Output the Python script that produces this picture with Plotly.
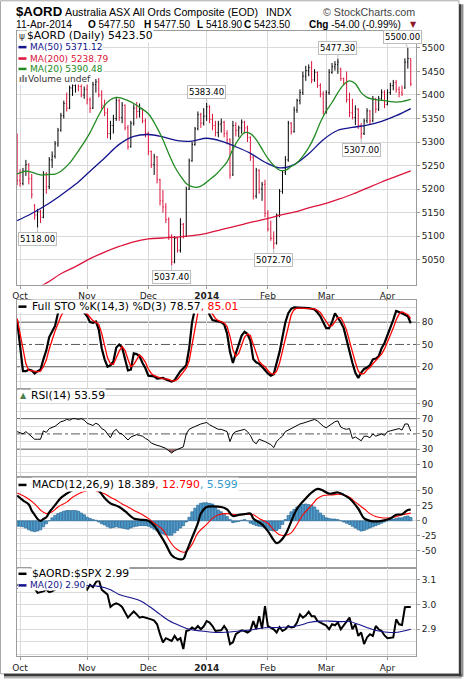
import plotly.graph_objects as go
import pandas as pd

# ---------------- calendar ----------------
HOLIDAYS = ["2013-12-25", "2013-12-26", "2014-01-01", "2014-01-27"]
dates = [d.strftime("%Y-%m-%d") for d in pd.bdate_range("2013-09-30", "2014-04-11")
         if d.strftime("%Y-%m-%d") not in HOLIDAYS]
month_labels = ["Oct", "Nov", "Dec", "<b>2014</b>", "Feb", "Mar", "Apr"]

# ---------------- price data ($AORD) ----------------
opens = [5300,5218,5212,5238,5252,5222,5165,5145,5152,5140,
         5232,5205,5262,5270,5296,5325,5356,5382,5372,5415,
         5420,5428,5418,5400,5412,5390,5372,5422,5428,5400,
         5378,5362,5318,5335,5350,5388,5352,5378,5330,5290,
         5340,5372,5365,5370,5345,5318,5280,5252,5268,5220,
         5175,5162,5135,5100,5045,5095,5070,5125,5100,5200,
         5260,5295,5328,5358,5340,5355,5375,5348,5335,5320,
         5338,5342,5318,5305,5230,5335,5325,5330,5342,5330,
         5310,5268,5185,5240,5200,5210,5148,5115,5095,5085,
         5145,5195,5236,5262,5340,5322,5368,5388,5405,5440,
         5452,5458,5432,5448,5420,5402,5365,5405,5448,5460,
         5465,5455,5435,5425,5390,5362,5352,5370,5335,5318,
         5345,5366,5345,5392,5370,5392,5406,5380,5405,5420,
         5426,5412,5405,5415,5470,5477.5]
highs = [5318,5242,5245,5262,5255,5232,5168,5158,5156,5238,
         5236,5268,5280,5302,5330,5362,5388,5405,5420,5425,
         5435,5432,5428,5418,5425,5395,5428,5434,5436,5410,
         5390,5372,5345,5358,5395,5392,5385,5380,5336,5345,
         5380,5385,5382,5372,5350,5322,5282,5275,5270,5222,
         5198,5170,5140,5104,5100,5098,5138,5128,5205,5265,
         5300,5332,5365,5362,5372,5383.4,5378,5360,5345,5345,
         5350,5345,5325,5308,5345,5342,5335,5348,5345,5335,
         5312,5270,5245,5242,5215,5220,5155,5133,5110,5148,
         5200,5240,5270,5345,5342,5375,5392,5412,5450,5462,
         5465,5472,5455,5450,5425,5408,5410,5455,5468,5472,
         5477.3,5458,5437,5450,5405,5392,5378,5372,5340,5350,
         5372,5368,5398,5394,5398,5412,5410,5412,5426,5432,
         5432,5418,5420,5478,5500,5477.5]
lows = [5208,5205,5208,5228,5210,5180,5135,5118,5128,5138,
        5190,5200,5245,5265,5290,5322,5350,5365,5370,5398,
        5405,5408,5395,5392,5380,5362,5370,5405,5395,5370,
        5355,5308,5305,5318,5345,5345,5340,5325,5284,5288,
        5335,5350,5352,5340,5310,5272,5245,5230,5212,5165,
        5150,5128,5092,5037.4,5042,5065,5065,5095,5098,5198,
        5258,5292,5325,5330,5335,5345,5340,5325,5312,5310,
        5320,5310,5295,5222,5228,5312,5310,5318,5318,5300,
        5260,5178,5180,5190,5175,5140,5110,5090,5072.7,5082,
        5140,5190,5230,5258,5316,5320,5362,5380,5400,5430,
        5440,5425,5428,5415,5395,5358,5360,5400,5445,5452,
        5445,5430,5420,5384,5353,5348,5336,5328,5307,5315,
        5340,5338,5342,5362,5366,5388,5372,5378,5400,5410,
        5405,5395,5398,5413,5456,5418.9]
closes = [5218,5212,5238,5252,5222,5188,5145,5152,5140,5232,
          5205,5262,5270,5296,5325,5356,5382,5372,5415,5420,
          5428,5418,5400,5412,5390,5372,5422,5428,5400,5378,
          5362,5318,5335,5350,5388,5352,5378,5330,5290,5340,
          5372,5365,5370,5345,5318,5280,5252,5268,5220,5175,
          5162,5135,5100,5045,5095,5070,5125,5100,5200,5260,
          5295,5328,5358,5340,5355,5375,5348,5335,5320,5338,
          5342,5318,5305,5230,5335,5325,5330,5342,5330,5310,
          5268,5185,5240,5200,5210,5148,5115,5095,5085,5145,
          5195,5236,5262,5340,5322,5368,5388,5405,5440,5452,
          5458,5432,5448,5420,5402,5365,5405,5448,5460,5465,
          5470,5435,5425,5390,5362,5352,5370,5335,5318,5345,
          5366,5345,5392,5370,5392,5406,5380,5405,5420,5426,
          5412,5405,5402,5470,5477.5,5423.5]

# moving averages (sampled trading-day number -> value)
ma50_days = [0,5,10,15,20,25,30,35,40,45,50,55,60,65,70,75,80,85,90,95,100,105,110,115,120,125,130,135]
ma50_vals = [5133,5148,5166,5187,5210,5238,5266,5295,5312,5316,5311,5303,5302,5308,5302,5290,5276,5257,5245,
             5252,5275,5305,5325,5331,5336,5344,5356,5371.12]
ma200_days = [5,10,15,20,25,30,35,40,45,50,55,60,65,70,75,80,85,90,95,100,105,110,115,120,125,130,135]
ma200_vals = [4985,5000,5020,5035,5052,5066,5078,5088,5094,5096,5098,5101,5106,5114,5121,5129,5136,5144,
              5151,5160,5168,5178,5189,5202,5215,5227,5238.79]
ma20_days = [0,3,5,8,11,13,15,18,20,22,25,28,30,32,34,36,38,40,42,45,48,50,52,54,56,58,60,62,64,66,68,70,
             72,74,76,78,80,82,84,86,88,90,92,94,96,98,100,102,104,106,108,110,112,114,116,118,120,122,124,
             126,128,130,132,135]
ma20_vals = [5232,5238,5236,5230,5231,5232,5238,5255,5272,5290,5320,5357,5378,5390,5395,5393,5388,5382,5374,
             5360,5330,5305,5275,5248,5228,5212,5205,5204,5210,5220,5230,5243,5258,5285,5306,5320,5318,5305,
             5285,5265,5250,5240,5240,5248,5256,5270,5288,5312,5342,5366,5384,5405,5422,5430,5424,5405,5395,
             5391,5389,5388,5386,5385,5386,5390.48]

# price labels (trading-day number, value, above/below)
label_days = [7, 53, 65, 88, 110, 118, 134]
label_vals = [5118.00, 5037.40, 5383.40, 5072.70, 5477.30, 5307.00, 5500.00]
label_side = ["low", "low", "high", "low", "high", "low", "high"]

# ---------------- indicators ----------------
sto_k = [82,45,14,14,16,15,11,14,16,30,
         42,60,68,75,92,96,97,96,97,97,
         97,96,95,93,88,80,79,81,70,45,
         30,20,22,27,46,50,46,30,15,16,
         38,37,34,25,18,8,8,7,4,4,
         5,3,1,0,2,8,14,18,22,45,
         80,98,100,98,100,100,90,83,82,80,
         80,77,65,40,25,38,50,62,67,64,
         55,30,26,24,20,15,11,8,10,25,
         40,60,80,92,98,100,100,99,99,99,
         99,98,97,93,88,80,72,72,80,92,
         86,80,72,55,40,25,12,5,12,17,
         19,22,30,31,34,45,52,62,72,83,
         95,94,92,90,88,78.57]
sto_d = [85,65,47,24,15,15,14,13,14,20,
         29,44,57,68,78,88,95,96,96,96,
         97,97,96,95,91,87,82,80,77,65,
         48,32,24,23,32,41,47,42,30,20,
         23,30,36,32,26,17,11,8,6,5,
         4,4,3,1,1,3,8,13,18,28,
         49,74,93,99,99,99,97,91,85,82,
         81,79,74,61,43,34,38,50,60,64,
         62,50,37,27,23,20,15,11,10,14,
         25,42,60,77,90,97,99,99,99,99,
         99,99,98,96,93,87,80,75,75,81,
         86,86,79,69,56,40,26,14,10,11,
         16,19,24,28,32,37,44,53,62,72,
         83,91,94,92,90,85.01]
rsi = [53,51,50,53,50,46,43,43,43,54,
       52,57,58,60,63,66,67,69,68,70,
       70,69,70,68,64,62,61,64,62,57,
       55,50,45,53,56,51,50,46,42,46,
       48,49,48,47,44,42,38,36,35,34,
       33,31,28,25,28,30,31,33,50,56,
       58,60,61,63,64,65,62,60,57,56,
       56,55,53,40,50,53,54,55,56,53,
       48,40,37,43,42,40,38,36,32,40,
       44,47,53,55,57,59,62,63,64,65,
       66,68,69,67,63,60,58,61,64,66,
       67,59,57,56,57,44,46,43,41,47,
       47,45,50,47,49,50,48,53,54,55,
       56,57,55,63,63,53.59]
macd_days = [0,2,4,5,6,7,8,9,10,11,13,15,17,19,21,23,25,27,28,30,32,35,37,40,42,45,47,49,51,53,55,57,58,60,
             62,63,65,67,70,72,74,76,78,80,81,84,86,88,89,90,92,94,96,99,101,103,105,107,110,112,114,117,119,
             121,123,125,128,130,132,134,135]
macd_vals = [42,34,27,17,10,3,0,3,6,14,26,38,45,51,57,59,58,53,50,38,29,23,16,4,2,0,-8,-23,-39,-57,-63,-63,
             -52,-28,-4,12,23,24,23,19,8,10,11,12,4,-6,-17,-32,-37,-35,-23,-1,20,37,47,53,50,45,47,43,37,20,4,
             0,-1,0,4,10,11,18,18.389]
signal_days = [0,3,6,8,10,12,14,17,19,22,24,26,28,30,32,34,36,38,41,43,45,47,50,52,54,57,58,60,62,65,67,69,
               72,74,76,79,81,83,86,88,90,92,94,96,98,101,103,105,108,110,112,114,116,119,121,123,125,128,130,
               132,135]
signal_vals = [46,39,28,18,12,15,23,31,39,47,50,51,48,45,39,34,28,23,15,10,4,-4,-15,-31,-44,-52,-51,-39,-20,
               -6,4,10,12,11,10,11,10,4,-4,-15,-23,-24,-20,-6,10,26,37,42,43,44,43,39,31,20,12,7,5,5,7,10,12.79]
macd_hist = [-9,-9,-10,-12,-15,-17,-18,-17,-15,-10,
             -5,0,5,9,12,14,16,17,17,17,
             17,16,13,10,6,4,2,1,-2,-5,
             -7,-10,-12,-11,-10,-11,-12,-13,-14,-12,
             -10,-9,-8,-8,-8,-9,-11,-14,-17,-20,
             -22,-23,-24,-24,-20,-16,-12,-8,-2,6,
             15,21,26,29,30,30,29,28,22,18,
             15,11,7,2,-3,-2,-1,1,2,0,
             -4,-6,-8,-9,-10,-12,-14,-16,-17,-16,
             -13,-6,2,9,15,19,23,25,27,28,
             27,26,23,18,13,9,5,4,3,3,
             2,0,-2,-4,-6,-9,-12,-15,-17,-16,
             -14,-12,-10,-8,-6,-4,-2,0,2,3,
             4,5,5,7,8,5.599]
ratio = [3.08,3.075,3.08,3.075,3.07,3.075,3.065,3.047,3.05,3.053,
         3.06,3.05,3.053,3.06,3.065,3.075,3.085,3.08,3.085,3.09,
         3.085,3.09,3.085,3.08,3.06,3.08,3.07,3.09,3.10,3.06,
         3.05,3.04,2.99,3.00,3.005,3.00,2.99,2.97,2.947,2.96,
         2.972,2.96,2.947,2.95,2.947,2.945,2.94,2.935,2.92,2.88,
         2.847,2.864,2.86,2.853,2.873,2.856,2.864,2.82,2.893,2.897,
         2.907,2.90,2.913,2.90,2.912,2.933,2.927,2.913,2.893,2.893,
         2.896,2.913,2.895,2.84,2.847,2.88,2.887,2.896,2.893,2.887,
         2.895,2.933,2.90,2.953,2.903,2.993,2.913,2.907,2.90,2.887,
         2.909,2.893,2.90,2.913,2.907,2.91,2.927,2.96,2.947,2.955,
         2.971,2.953,2.953,2.933,2.927,2.923,2.915,2.90,2.92,2.916,
         2.927,2.90,2.917,2.93,2.947,2.90,2.92,2.873,2.887,2.84,
         2.867,2.88,2.873,2.913,2.90,2.893,2.875,2.864,2.864,2.867,
         2.94,2.92,2.917,2.989,2.99,2.99]
ratio_ma_days = [0,5,10,15,20,23,28,32,35,39,42,45,49,52,56,59,63,66,70,73,76,80,83,87,90,93,97,100,104,107,
                 111,114,117,121,124,128,131,135]
ratio_ma_vals = [3.065,3.07,3.07,3.072,3.075,3.077,3.073,3.06,3.04,3.027,3.016,2.995,2.96,2.935,2.913,2.90,
                 2.893,2.889,2.887,2.889,2.893,2.897,2.903,2.907,2.907,2.909,2.916,2.927,2.933,2.933,2.931,
                 2.931,2.92,2.903,2.893,2.887,2.889,2.90]

# ---------------- geometry helpers ----------------
W, H = 464, 685
L, R, T, B = 17, 48, 31, 23
PW, PH = W - L - R, H - T - B


def px(x):
    return (x - L) / PW


def py(y):
    return (H - B - y) / PH


def dom(top, bottom):
    return [py(bottom), py(top)]


n = len(dates)
xs = list(range(n))
month_idx = [i for i in range(1, n) if dates[i][5:7] != dates[i - 1][5:7]]

GRID = "#dadada"
BORDER = "#9c9c9c"
NAVY = "#14148c"
CRIMSON = "#dc143c"
GREEN = "#228b22"
FONT = "DejaVu Sans"

fig = go.Figure()

# main panel
fig.add_trace(go.Ohlc(x=xs, open=opens, high=highs, low=lows, close=closes,
                      increasing=dict(line=dict(color="black", width=1)),
                      decreasing=dict(line=dict(color=CRIMSON, width=1)),
                      tickwidth=0.3, xaxis="x", yaxis="y", hoverinfo="skip", showlegend=False))
fig.add_trace(go.Scatter(x=ma200_days, y=ma200_vals, mode="lines", line=dict(color=CRIMSON, width=1.3, shape="spline"),
                         xaxis="x", yaxis="y", showlegend=False, hoverinfo="skip"))
fig.add_trace(go.Scatter(x=ma50_days, y=ma50_vals, mode="lines", line=dict(color=NAVY, width=1.3, shape="spline"),
                         xaxis="x", yaxis="y", showlegend=False, hoverinfo="skip"))
fig.add_trace(go.Scatter(x=ma20_days, y=ma20_vals, mode="lines", line=dict(color=GREEN, width=1.3, shape="spline"),
                         xaxis="x", yaxis="y", showlegend=False, hoverinfo="skip"))

# STO panel
fig.add_trace(go.Scatter(x=xs, y=sto_k, mode="lines", line=dict(color="black", width=2.2),
                         xaxis="x2", yaxis="y2", showlegend=False, hoverinfo="skip"))
fig.add_trace(go.Scatter(x=xs, y=sto_d, mode="lines", line=dict(color="#ff0000", width=1.3),
                         xaxis="x2", yaxis="y2", showlegend=False, hoverinfo="skip"))

# RSI panel (fill below 30)
fig.add_trace(go.Scatter(x=xs, y=[30] * n, mode="lines", line=dict(width=0),
                         xaxis="x3", yaxis="y3", showlegend=False, hoverinfo="skip"))
fig.add_trace(go.Scatter(x=xs, y=[min(v, 30) for v in rsi], mode="lines", line=dict(width=0),
                         fill="tonexty", fillcolor="#9a6464",
                         xaxis="x3", yaxis="y3", showlegend=False, hoverinfo="skip"))
fig.add_trace(go.Scatter(x=xs, y=rsi, mode="lines", line=dict(color="black", width=1),
                         xaxis="x3", yaxis="y3", showlegend=False, hoverinfo="skip"))

# MACD panel
fig.add_trace(go.Bar(x=xs, y=macd_hist, marker=dict(color="#4f9ccc", line=dict(color="#1c5a8a", width=0.6)),
                     xaxis="x4", yaxis="y4", showlegend=False, hoverinfo="skip"))
fig.add_trace(go.Scatter(x=signal_days, y=signal_vals, mode="lines", line=dict(color="#ff0000", width=1.1, shape="spline"),
                         xaxis="x4", yaxis="y4", showlegend=False, hoverinfo="skip"))
fig.add_trace(go.Scatter(x=macd_days, y=macd_vals, mode="lines", line=dict(color="black", width=2.2, shape="spline"),
                         xaxis="x4", yaxis="y4", showlegend=False, hoverinfo="skip"))

# ratio panel
fig.add_trace(go.Scatter(x=xs, y=ratio, mode="lines", line=dict(color="black", width=2),
                         xaxis="x5", yaxis="y5", showlegend=False, hoverinfo="skip"))
fig.add_trace(go.Scatter(x=ratio_ma_days, y=ratio_ma_vals, mode="lines", line=dict(color=NAVY, width=1.1, shape="spline"),
                         xaxis="x5", yaxis="y5", showlegend=False, hoverinfo="skip"))

# ---------------- axes ----------------
xbase = dict(range=[-0.05, 136.8], tickvals=month_idx, ticktext=month_labels, showgrid=True, gridcolor=GRID,
             gridwidth=1, showline=True, linecolor=BORDER, linewidth=1, mirror=True, zeroline=False,
             tickfont=dict(family=FONT, size=9, color="#222"), fixedrange=True)
ybase = dict(side="right", showline=True, linecolor=BORDER, linewidth=1, mirror=True, zeroline=False,
             ticks="outside", ticklen=3, tickcolor=BORDER, tickfont=dict(family=FONT, size=9, color="#222"),
             gridcolor=GRID, fixedrange=True)

layout = dict(
    width=W, height=H, margin=dict(l=L, r=R, t=T, b=B), paper_bgcolor="white", plot_bgcolor="white",
    showlegend=False, bargap=0.12, hovermode=False,
    xaxis=dict(xbase, domain=[0, 1], anchor="y", rangeslider=dict(visible=False), ticks="outside", ticklen=3,
               tickcolor=BORDER),
    xaxis2=dict(xbase, domain=[0, 1], anchor="y2", matches="x", showticklabels=False, ticks=""),
    xaxis3=dict(xbase, domain=[0, 1], anchor="y3", matches="x", showticklabels=False, ticks=""),
    xaxis4=dict(xbase, domain=[0, 1], anchor="y4", matches="x", showticklabels=False, ticks=""),
    xaxis5=dict(xbase, domain=[0, 1], anchor="y5", matches="x", ticks="outside", ticklen=3, tickcolor=BORDER),
    yaxis=dict(ybase, domain=dom(31, 287), anchor="x", range=[4997, 5536],
               tickvals=list(range(5050, 5501, 50)), showgrid=True),
    yaxis2=dict(ybase, domain=dom(303, 392.7), anchor="x2", range=[-10.3, 109.3], tickvals=[20, 50, 80],
                showgrid=False, minor=dict(tickvals=[0, 10, 30, 40, 60, 70, 90, 100], showgrid=True,
                                           gridcolor=GRID, ticks="")),
    yaxis3=dict(ybase, domain=dom(392.7, 481.7), anchor="x3", range=[-7, 108.5], tickvals=[10, 30, 50, 70, 90],
                showgrid=False, minor=dict(tickvals=[0, 10, 20, 40, 60, 80, 90, 100], showgrid=True,
                                           gridcolor=GRID, ticks="")),
    yaxis4=dict(ybase, domain=dom(481.7, 573), anchor="x4", range=[-78, 72], tickvals=[-50, -25, 0, 25, 50],
                ticktext=["-50", "-25", "0", "25", "50"], showgrid=True,
                minor=dict(tickvals=[-62.5, -37.5, -12.5, 12.5, 37.5, 62.5], showgrid=True, gridcolor=GRID, ticks="")),
    yaxis5=dict(ybase, domain=dom(573, 662), anchor="x5", range=[2.792, 3.148], tickvals=[2.9, 3.0, 3.1],
                ticktext=["2.9", "3.0", "3.1"], showgrid=True,
                minor=dict(tickvals=[2.8, 2.85, 2.95, 3.05], showgrid=True, gridcolor=GRID, ticks="")),
)
fig.update_layout(**layout)

# ---------------- reference lines ----------------
shapes = []
for yref, lvl, dash in [("y2", 80, "solid"), ("y2", 20, "solid"), ("y2", 50, "dashdot"),
                        ("y3", 70, "solid"), ("y3", 30, "solid"), ("y3", 50, "dashdot")]:
    shapes.append(dict(type="line", xref="paper", yref=yref, x0=0, x1=1, y0=lvl, y1=lvl,
                       line=dict(color="#5a5a5a", width=1, dash=dash), layer="below"))

# white backing behind legend symbols (left end of the legend boxes)
for top, bot in [(31.5, 85), (303.5, 315.5), (393.2, 405.5), (482.2, 495.5), (573.5, 596.5)]:
    shapes.append(dict(type="rect", xref="paper", yref="paper", x0=px(17.6), x1=px(30.5), y0=py(bot), y1=py(top),
                       fillcolor="white", line=dict(width=0), layer="above"))

# legend dashes
for yy, col in [(47.3, NAVY), (58.8, CRIMSON), (69.3, GREEN), (309.3, "black"), (489.3, "black"),
                (579.0, "black"), (590.7, NAVY)]:
    shapes.append(dict(type="line", xref="paper", yref="paper", x0=px(18.5), x1=px(26.5), y0=py(yy), y1=py(yy),
                       line=dict(color=col, width=2.5), layer="above"))

# frame and drop shadow
shapes.append(dict(type="rect", xref="paper", yref="paper", x0=px(0.5), x1=px(459), y0=py(680), y1=py(0.5),
                   line=dict(color="#a8a8a8", width=1), layer="below"))
for x0, x1, col in [(459, 461.5, "#3a3a3a"), (461.5, 463, "#8c8c8c"), (463, 464, "#cfcfcf")]:
    shapes.append(dict(type="rect", xref="paper", yref="paper", x0=px(x0), x1=px(x1), y0=py(683), y1=py(4),
                       fillcolor=col, line=dict(width=0), layer="above"))
for y0, y1, col in [(680, 682.5, "#3a3a3a"), (682.5, 684, "#8c8c8c"), (684, 685, "#cfcfcf")]:
    shapes.append(dict(type="rect", xref="paper", yref="paper", x0=px(4), x1=px(461.5), y0=py(y1), y1=py(y0),
                       fillcolor=col, line=dict(width=0), layer="above"))
fig.update_layout(shapes=shapes)

# ---------------- annotations ----------------
ann = []


def txt(x, y, text, size=9.0, color="#000", family=FONT, anchor="left", bg=None):
    d = dict(xref="paper", yref="paper", x=px(x), y=py(y), text=text, showarrow=False, xanchor=anchor,
             yanchor="middle", font=dict(family=family, size=size, color=color), borderpad=0)
    if bg:
        d["bgcolor"] = bg
    return d


HDR = "Liberation Sans"
ann.append(txt(14.5, 11, "<b>$AORD</b>", 13.2, "#000", HDR))
ann.append(txt(63.5, 11.5, "Australia ASX All Ords Composite (EOD)", 10.7, "#000", HDR))
ann.append(txt(265, 11.5, "INDX", 10.7, "#000", HDR))
ann.append(txt(416, 11.5, "© StockCharts.com", 10.7, "#444", HDR, anchor="right"))
ann.append(txt(15, 24, "11-Apr-2014", 10.2, "#000", HDR))
ann.append(txt(87, 24, "<b>O</b> 5477.50", 10, "#000", HDR))
ann.append(txt(142.5, 24, "<b>H</b> 5477.50", 10, "#000", HDR))
ann.append(txt(196, 24, "<b>L</b> 5418.90", 10, "#000", HDR))
ann.append(txt(243, 24, "<b>C</b> 5423.50", 10, "#000", HDR))
ann.append(txt(308, 24, "<b>Chg</b> -54.00 (-0.99%)", 10, "#000", HDR))
ann.append(txt(409, 24.5, "▼", 8, "#8b1a2a", FONT))

# main legend
ann.append(txt(18, 35.7, "ψ", 9, "#333", FONT, bg="white"))
ann.append(txt(26, 35.7, "$AORD (Daily) 5423.50", 10.8, "#000", FONT, bg="white"))
ann.append(txt(29, 47.3, "MA(50) 5371.12", 9, NAVY, FONT, bg="white"))
ann.append(txt(29, 58.8, "MA(200) 5238.79", 9, CRIMSON, FONT, bg="white"))
ann.append(txt(29, 69.3, "MA(20) 5390.48", 9, GREEN, FONT, bg="white"))
ann.append(txt(18, 79.5, "<b>ılı</b>", 8, "#666", FONT, bg="white"))
ann.append(txt(26.5, 79.5, "Volume undef", 9, "#333", FONT, bg="white"))

# indicator legends
ann.append(txt(31, 309.3, "Full STO %K(14,3) %D(3) 78.57<span style='color:#ff0000'>, 85.01</span>", 10.8,
               "#000", FONT, bg="white"))
ann.append(txt(18.5, 399.3, "▲", 8, "#4d7f4d", FONT))
ann.append(txt(30, 399.3, "RSI(14) 53.59", 10.8, "#000", FONT, bg="white"))
ann.append(txt(31, 489.3, "MACD(12,26,9) 18.389<span style='color:#ff0000'>, 12.790</span>"
                          "<span style='color:#3399cc'>, 5.599</span>", 10.8, "#000", FONT, bg="white"))
ann.append(txt(31, 579.0, "$AORD:$SPX 2.99", 10.8, "#000", FONT, bg="white"))
ann.append(txt(29, 590.7, "MA(20) 2.90", 9, NAVY, FONT, bg="white"))

# price callouts
for d, v, side in zip(label_days, label_vals, label_side):
    ax = -5 if d == label_days[-1] else 0
    ann.append(dict(xref="x", yref="y", x=d, y=v, text=f"{v:.2f}", showarrow=True, arrowhead=0, arrowwidth=1,
                    arrowcolor="#bdbdbd", ax=ax, ay=(-11 if side == "high" else 11), bgcolor="white",
                    bordercolor="#bdbdbd", borderwidth=1, borderpad=1,
                    font=dict(family=FONT, size=8.5, color="#000")))

fig.update_layout(annotations=ann)

fig.write_html("out.html", config={"displayModeBar": False},
               post_script="document.body.style.margin='0px';document.body.style.padding='0px';")
